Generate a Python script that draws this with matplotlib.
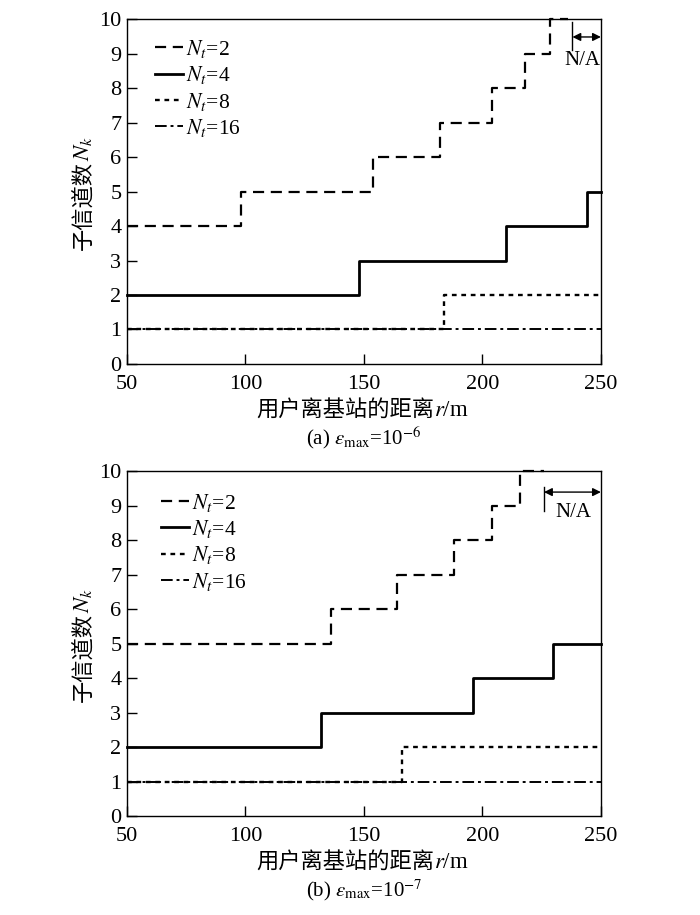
import matplotlib
matplotlib.use("Agg")
import matplotlib.pyplot as plt

plt.rcParams['font.family'] = ['Liberation Serif', 'Noto Sans CJK SC']
plt.rcParams['mathtext.fontset'] = 'stix'

# ---- data: panel (a) eps_max = 1e-6 ----
a_nt2_r = [50, 98, 154, 182, 204, 218, 228.5, 236]
a_nt2_n = [4, 5, 6, 7, 8, 9, 10, 10]
a_nt4_r = [50, 148, 210, 244, 250]
a_nt4_n = [2, 3, 4, 5, 5]
a_nt8_r = [50, 184, 250]
a_nt8_n = [1, 2, 2]
a_nt16_r = [50, 250]
a_nt16_n = [1, 1]
a_na_start = 238

# ---- data: panel (b) eps_max = 1e-7 ----
b_nt2_r = [50, 136, 164, 188, 204, 216, 226]
b_nt2_n = [5, 6, 7, 8, 9, 10, 10]
b_nt4_r = [50, 132, 196, 230, 250]
b_nt4_n = [2, 3, 4, 5, 5]
b_nt8_r = [50, 166, 250]
b_nt8_n = [1, 2, 2]
b_nt16_r = [50, 250]
b_nt16_n = [1, 1]
b_na_start = 226

labels = [r'$N_t$=2', r'$N_t$=4', r'$N_t$=8', r'$N_t$=16']
xticks = [50, 100, 150, 200, 250]
yticks = list(range(0, 11))
captions = [r'(a) $\varepsilon_{\rm max}$=10$^{-6}$', r'(b) $\varepsilon_{\rm max}$=10$^{-7}$']
xlabel_cn = '用户离基站的距离'
xlabel_math = r'$r$/m'
ylabel_cn = '子信道数'
ylabel_math = r'$N_k$'

fig = plt.figure(figsize=(7, 9.15), dpi=100)
ax_a = fig.add_axes([0.1814, 0.6022, 0.677, 0.377])
ax_b = fig.add_axes([0.1814, 0.1082, 0.677, 0.377])

styles = [dict(ls=(0, (5, 3)), lw=1.6),
          dict(ls='-', lw=2.0),
          dict(ls=(0, (2, 2)), lw=1.7),
          dict(ls=(0, (6, 2, 1.5, 2)), lw=1.4)]

panels = [
    (ax_a, [(a_nt2_r, a_nt2_n), (a_nt4_r, a_nt4_n), (a_nt8_r, a_nt8_n), (a_nt16_r, a_nt16_n)],
     a_na_start, captions[0], 9.48, (9.1, 9.9), (0.04, 0.97), 242.0),
    (ax_b, [(b_nt2_r, b_nt2_n), (b_nt4_r, b_nt4_n), (b_nt8_r, b_nt8_n), (b_nt16_r, b_nt16_n)],
     b_na_start, captions[1], 9.39, (8.85, 9.55), (0.053, 0.965), 238.5),
]

for ax, series, na_start, cap, arrow_y, vline, leg_anchor, na_x in panels:
    for (r, n), st, lab in zip(series, styles, labels):
        ax.plot(r, n, drawstyle='steps-post', color='black', label=lab, clip_on=False, **st)
    ax.set_xlim(50, 250)
    ax.set_ylim(0, 10)
    ax.set_xticks(xticks)
    ax.set_yticks(yticks)
    ax.tick_params(direction='in', length=7, width=1, labelsize=16)
    ax.tick_params(axis='x', pad=8)
    ax.tick_params(axis='y', pad=4)
    for s in ax.spines.values():
        s.set_linewidth(1.0)

    # x label: Chinese part + math part
    tx = ax.text(0.46, -0.135, xlabel_cn, transform=ax.transAxes, ha='center',
                 va='center', fontsize=16, family=['Noto Sans CJK SC'])
    ax.annotate(xlabel_math, xy=(1.0, 0.5), xycoords=tx, ha='left', va='center',
                fontsize=16.5)
    # y label: Chinese part + math part
    ty = ax.text(-0.093, 0.46, ylabel_cn, transform=ax.transAxes, ha='center',
                 va='center', rotation=90, fontsize=16, family=['Noto Sans CJK SC'])
    ax.annotate(ylabel_math, xy=(0.5, 1.0), xycoords=ty, ha='center', va='bottom',
                rotation=90, fontsize=16.5)

    ax.text(0.5, -0.215, cap, transform=ax.transAxes, ha='center', va='center', fontsize=15)

    # N/A annotation
    ax.plot([na_start, na_start], list(vline), color='black', lw=1.0)
    ax.annotate('', xy=(250, arrow_y), xytext=(na_start, arrow_y),
                arrowprops=dict(arrowstyle='<|-|>', color='black', lw=1.0,
                                shrinkA=0, shrinkB=0, mutation_scale=12))
    ax.text(na_x, 8.8, 'N/A', ha='center', va='center', fontsize=15)
    ax.legend(loc='upper left', bbox_to_anchor=leg_anchor, frameon=False,
              fontsize=15.5, handlelength=1.3, handletextpad=0.15, labelspacing=0.2,
              borderaxespad=0)

fig.savefig('out.png', dpi=100)
